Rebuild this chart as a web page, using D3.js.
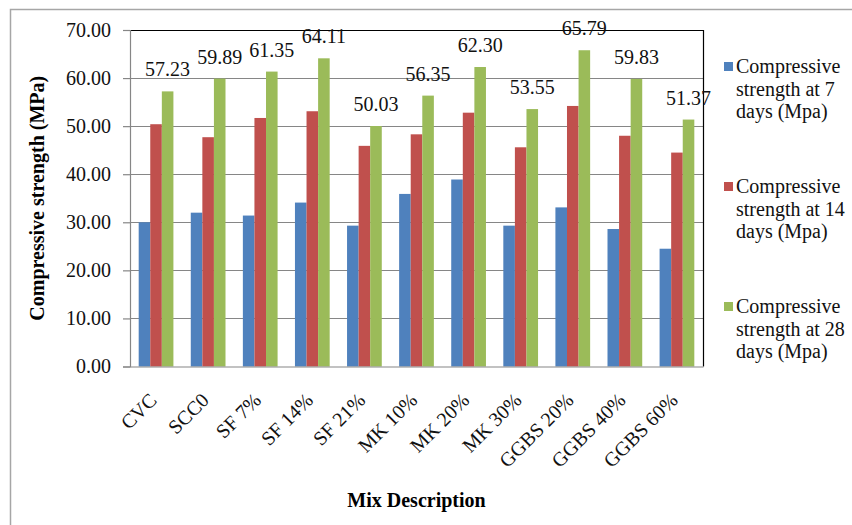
<!DOCTYPE html>
<html><head><meta charset="utf-8">
<script src="https://cdn.jsdelivr.net/npm/d3@7"></script>
<style>
html,body{margin:0;padding:0;background:#fff;}
svg text{font-family:"Liberation Serif","Times New Roman",Times,serif !important;}
</style></head>
<body><svg id="c" width="852" height="525" font-family="Liberation Serif"></svg>
<script>
const categories = ["CVC","SCC0","SF 7%","SF 14%","SF 21%","MK 10%","MK 20%","MK 30%","GGBS 20%","GGBS 40%","GGBS 60%"];
const day7  = [30.0, 32.0, 31.4, 34.1, 29.3, 35.9, 38.9, 29.3, 33.1, 28.6, 24.5];
const day14 = [50.4, 47.7, 51.7, 53.1, 45.9, 48.3, 52.8, 45.6, 54.2, 48.0, 44.5];
const day28 = [57.23, 59.89, 61.35, 64.11, 50.03, 56.35, 62.30, 53.55, 65.79, 59.83, 51.37];
const seriesLines = [["Compressive","strength at 7","days (Mpa)"],["Compressive","strength at 14","days (Mpa)"],["Compressive","strength at 28","days (Mpa)"]];
const colors = ["#4F81BD","#C0504D","#9BBB59"];
const yTicks = [0,10,20,30,40,50,60,70];

const FF = "Liberation Serif";
const series = [day7, day14, day28];
const svg = d3.select("#c");
const L = 130, R = 703, T = 30, B = 366.5;

svg.append("rect").attr("x",10.5).attr("y",9.5).attr("width",900).attr("height",600)
  .attr("fill","none").attr("stroke","#A6A6A6").attr("stroke-width",1.5);

const x = d3.scaleBand().domain(categories).range([L,R]).paddingInner(0).paddingOuter(0);
const y = d3.scaleLinear().domain([0,70]).range([B,T]);
const bw = x.bandwidth()/4.5;

svg.append("g").selectAll("line").data(yTicks.filter(d=>d>0)).join("line")
  .attr("x1",L).attr("x2",R).attr("y1",d=>Math.round(y(d))+0.5).attr("y2",d=>Math.round(y(d))+0.5)
  .attr("stroke",d=>d===70?"#000":"#868686").attr("stroke-width",1.2);

series.forEach((s,si)=>{
  svg.append("g").selectAll("rect").data(s).join("rect")
    .attr("x",(d,i)=>x(categories[i]) + 0.75*bw + si*bw)
    .attr("width",bw)
    .attr("y",d=>y(d))
    .attr("height",d=>y(0)-y(d))
    .attr("fill",colors[si]);
});

svg.append("line").attr("x1",R+0.5).attr("x2",R+0.5).attr("y1",T).attr("y2",B).attr("stroke","#000").attr("stroke-width",1.2);

const yAxis = d3.axisLeft(y).tickValues(yTicks).tickFormat(d3.format(".2f")).tickSize(7).tickPadding(12);
const ga = svg.append("g").attr("transform",`translate(${L},0)`).call(yAxis).attr("font-family",FF).attr("font-size",20);
ga.select(".domain").attr("stroke","#868686").attr("stroke-width",1.2);
ga.selectAll(".tick line").attr("stroke","#868686").attr("stroke-width",1.2);
ga.selectAll(".tick text").attr("font-size",20).attr("fill","#111").attr("font-family",FF);

const xAxis = d3.axisBottom(x).tickSize(0).tickFormat("");
const gx = svg.append("g").attr("transform",`translate(0,${B})`).call(xAxis);
gx.select(".domain").attr("stroke","#868686").attr("stroke-width",1.2);

svg.append("g").selectAll("text").data(categories).join("text")
  .attr("transform",d=>`translate(${x(d)+x.bandwidth()/2+2},${B+35}) rotate(-45)`)
  .attr("text-anchor","end").attr("font-family",FF).attr("font-size",20).attr("fill","#111").text(d=>d);

svg.append("g").selectAll("text").data(day28).join("text")
  .attr("x",(d,i)=>x(categories[i]) + 0.75*bw + 2.5*bw)
  .attr("y",d=>y(d)-15)
  .attr("text-anchor","middle").attr("font-family",FF).attr("font-size",20).attr("fill","#111")
  .text(d=>d3.format(".2f")(d));

svg.append("text").attr("transform",`translate(44,${(T+B)/2}) rotate(-90)`)
  .attr("text-anchor","middle").attr("font-family",FF).attr("font-size",20).attr("font-weight","bold")
  .attr("textLength",245).attr("lengthAdjust","spacingAndGlyphs")
  .text("Compressive strength (MPa)");
svg.append("text").attr("x",(L+R)/2).attr("y",507).attr("text-anchor","middle").attr("font-family",FF)
  .attr("font-size",20).attr("font-weight","bold").text("Mix Description");

const lg = svg.append("g");
seriesLines.forEach((lines,i)=>{
  const y0 = 67 + i*120;
  lg.append("rect").attr("x",724).attr("y",y0-5).attr("width",9).attr("height",9).attr("fill",colors[i]);
  lines.forEach((t,j)=>{
    lg.append("text").attr("x",736).attr("y",y0+6+j*22.5).attr("font-family",FF).attr("font-size",20).attr("fill","#111").text(t);
  });
});
</script></body></html>
